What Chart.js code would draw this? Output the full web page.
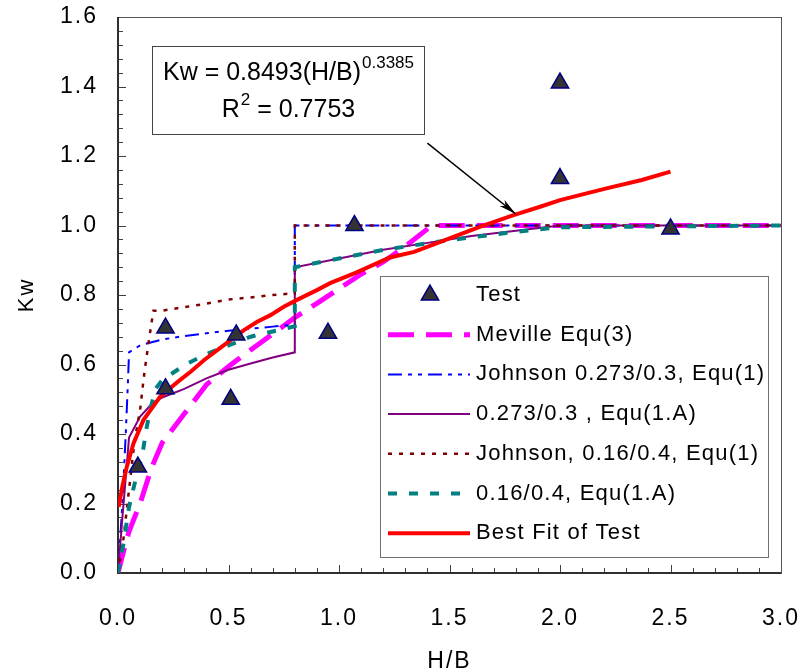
<!DOCTYPE html>
<html>
<head>
<meta charset="utf-8">
<script src="https://cdn.jsdelivr.net/npm/chart.js@4.4.0/dist/chart.umd.min.js"></script>
<style>
  html, body { margin: 0; padding: 0; background: #fff; }
</style>
</head>
<body>
<canvas id="chart" width="804" height="670"></canvas>
<script>

//Test results
const testX = [0.09, 0.215, 0.215, 0.51, 0.535, 0.95, 1.07, 2.0, 2.0, 2.5];
const testY = [0.305, 0.705, 0.53, 0.50, 0.685, 0.69, 1.0, 1.41, 1.135, 0.99];

//Meville Equ(3)
const mevilleX = [0, 0.02, 0.05, 0.1, 0.15, 0.2, 0.3, 0.4, 0.5, 0.6, 0.7, 0.8, 0.9, 1.0, 1.1, 1.2, 1.3, 1.42, 3.0];
const mevilleY = [0, 0.05, 0.12, 0.2, 0.3, 0.375, 0.458, 0.542, 0.594, 0.642, 0.688, 0.735, 0.776, 0.818, 0.86, 0.895, 0.94, 1.0, 1.0];

//Johnson 0.273/0.3, Equ(1)
const john273X = [0, 0.02, 0.035, 0.045, 0.05, 0.1, 0.2, 0.3, 0.4, 0.5, 0.6, 0.7, 0.8, 0.8, 3.0];
const john273Y = [0, 0.2, 0.4, 0.55, 0.635, 0.655, 0.672, 0.682, 0.69, 0.697, 0.703, 0.709, 0.715, 1.0, 1.0];

//0.273/0.3, Equ(1.A)
const eqA273X = [0, 0.02, 0.05, 0.1, 0.15, 0.2, 0.3, 0.4, 0.5, 0.6, 0.7, 0.8, 0.8, 1.0, 1.2, 1.4, 1.6, 1.8, 2.0, 3.0];
const eqA273Y = [0, 0.16, 0.39, 0.45, 0.485, 0.505, 0.53, 0.56, 0.585, 0.603, 0.62, 0.635, 0.88, 0.905, 0.93, 0.95, 0.97, 0.985, 1.0, 1.0];

//Johnson, 0.16/0.4, Equ(1)
const john16X = [0, 0.025, 0.05, 0.075, 0.1, 0.12, 0.14, 0.16, 0.2, 0.3, 0.4, 0.5, 0.6, 0.7, 0.8, 0.8, 3.0];
const john16Y = [0, 0.1, 0.24, 0.38, 0.47, 0.58, 0.67, 0.755, 0.755, 0.765, 0.775, 0.787, 0.793, 0.80, 0.805, 1.0, 1.0];

//0.16/0.4, Equ(1.A)
const eqA16X = [0, 0.025, 0.05, 0.08, 0.11, 0.13, 0.15, 0.17, 0.2, 0.3, 0.4, 0.5, 0.6, 0.7, 0.8, 0.8, 1.0, 1.2, 1.5, 1.8, 2.0, 3.0];
const eqA16Y = [0, 0.085, 0.19, 0.27, 0.34, 0.42, 0.48, 0.53, 0.555, 0.598, 0.63, 0.655, 0.68, 0.695, 0.71, 0.88, 0.905, 0.93, 0.958, 0.982, 0.995, 1.0];

//Best fit of test
const fitX = [0.003, 0.02, 0.04, 0.07, 0.115, 0.19, 0.27, 0.33, 0.39, 0.49, 0.57, 0.63, 0.69, 0.75, 0.81, 0.9, 0.96, 1.08, 1.23, 1.34, 1.5, 1.64, 1.79, 1.91, 2.0, 2.21, 2.37, 2.5];
const fitY = [0.19, 0.25, 0.306, 0.373, 0.44, 0.507, 0.55, 0.58, 0.613, 0.661, 0.699, 0.723, 0.742, 0.766, 0.786, 0.814, 0.834, 0.865, 0.908, 0.924, 0.963, 0.997, 1.03, 1.054, 1.073, 1.107, 1.131, 1.155];

//Axis tick values
const xTicks = [0, 0.5, 1.0, 1.5, 2.0, 2.5, 3.0];
const yTicks = [0, 0.2, 0.4, 0.6, 0.8, 1.0, 1.2, 1.4, 1.6];

//Arrow of the fit equation (data coords)
const arrowFrom = [1.40, 1.237];
const arrowTo = [1.80, 1.033];

const FONT = '"Liberation Sans", Arial, sans-serif';

const pts = (xs, ys) => xs.map((x, i) => ({ x: x, y: ys[i] }));

const lineSet = (label, xs, ys, color, width, dash, order) => ({
    label: label,
    data: pts(xs, ys),
    showLine: true,
    borderColor: color,
    backgroundColor: color,
    borderWidth: width,
    borderDash: dash,
    pointRadius: 0,
    tension: 0,
    order: order,
});

//frame and inward tick marks
const frameTicks = {
    id: "frameTicks",
    beforeDatasetsDraw(chart) {
        const { ctx, chartArea: a, scales: { x, y } } = chart;
        ctx.save();
        ctx.strokeStyle = "#404040";
        ctx.lineWidth = 1;
        for (let i = 0; i <= 30; i++) {
            const px = Math.round(x.getPixelForValue(i / 10)) + 0.5;
            const len = i % 5 === 0 ? 8 : 5;
            ctx.beginPath();
            ctx.moveTo(px, a.bottom);
            ctx.lineTo(px, a.bottom - len);
            ctx.stroke();
        }
        for (let i = 0; i <= 40; i++) {
            const py = Math.round(y.getPixelForValue(i * 0.04)) + 0.5;
            const len = i % 5 === 0 ? 8 : 5;
            ctx.beginPath();
            ctx.moveTo(a.left, py);
            ctx.lineTo(a.left + len, py);
            ctx.stroke();
        }
        ctx.strokeStyle = "#555";
        ctx.strokeRect(a.left + 0.5, a.top + 0.5, a.right - a.left, a.bottom - a.top);
        ctx.strokeStyle = "#303030";
        ctx.lineWidth = 2;
        ctx.beginPath();
        ctx.moveTo(a.left, a.top);
        ctx.lineTo(a.left, a.bottom);
        ctx.lineTo(a.right, a.bottom);
        ctx.stroke();
        ctx.restore();
    },
};

//legend box inside the plot
const boxLegend = {
    id: "boxLegend",
    afterDraw(chart) {
        const ctx = chart.ctx;
        const left = 380, top = 276, right = 768, bottom = 557;
        ctx.save();
        ctx.letterSpacing = "0px";
        ctx.fillStyle = "#fff";
        ctx.fillRect(left, top, right - left, bottom - top);
        ctx.strokeStyle = "#707070";
        ctx.lineWidth = 1;
        ctx.strokeRect(left + 0.5, top + 0.5, right - left, bottom - top);

        chart.data.datasets.forEach((ds, i) => {
            const cy = 295 + i * 39.7;
            if (!ds.showLine) {
                ctx.fillStyle = ds.backgroundColor;
                ctx.strokeStyle = ds.borderColor;
                ctx.lineWidth = ds.borderWidth;
                Chart.helpers.drawPoint(ctx, { pointStyle: "triangle", radius: 10, rotation: 0, borderWidth: ds.borderWidth }, 430, cy);
            } else {
                ctx.strokeStyle = ds.borderColor;
                ctx.lineWidth = ds.borderWidth;
                ctx.setLineDash(ds.borderDash || []);
                ctx.beginPath();
                ctx.moveTo(388, cy);
                ctx.lineTo(470, cy);
                ctx.stroke();
                ctx.setLineDash([]);
            }
            ctx.fillStyle = "#000";
            ctx.font = "22px " + FONT;
            ctx.letterSpacing = "1.2px";
            ctx.textBaseline = "middle";
            ctx.textAlign = "left";
            ctx.fillText(ds.label, 476, cy);
            ctx.letterSpacing = "0px";
        });
        ctx.restore();
    },
};

//equation box with arrow
const fitNote = {
    id: "fitNote",
    afterDraw(chart) {
        const { ctx, scales: { x, y } } = chart;
        ctx.save();
        ctx.letterSpacing = "0px";
        ctx.fillStyle = "#fff";
        ctx.fillRect(152, 46, 272, 88);
        ctx.strokeStyle = "#444";
        ctx.lineWidth = 1;
        ctx.strokeRect(152.5, 46.5, 272, 88);

        ctx.fillStyle = "#000";
        ctx.textAlign = "left";
        ctx.textBaseline = "alphabetic";
        const big = "25px " + FONT, small = "17px " + FONT;

        ctx.font = big;
        const main = "Kw = 0.8493(H/B)";
        const wMain = ctx.measureText(main).width;
        ctx.font = small;
        const wSup = ctx.measureText("0.3385").width;
        let sx = 288 - (wMain + wSup) / 2;
        ctx.font = big;
        ctx.fillText(main, sx, 80);
        ctx.font = small;
        ctx.fillText("0.3385", sx + wMain + 1, 68);

        ctx.font = big;
        const wR = ctx.measureText("R").width;
        const rest = " = 0.7753";
        const wRest = ctx.measureText(rest).width;
        ctx.font = small;
        const w2 = ctx.measureText("2").width;
        sx = 288 - (wR + w2 + wRest) / 2;
        ctx.font = big;
        ctx.fillText("R", sx, 117);
        ctx.font = small;
        ctx.fillText("2", sx + wR + 1, 105);
        ctx.font = big;
        ctx.fillText(rest, sx + wR + w2 + 1, 117);

        //arrow
        const x0 = x.getPixelForValue(arrowFrom[0]), y0 = y.getPixelForValue(arrowFrom[1]);
        const x1 = x.getPixelForValue(arrowTo[0]), y1 = y.getPixelForValue(arrowTo[1]);
        const ang = Math.atan2(y1 - y0, x1 - x0);
        ctx.strokeStyle = "#000";
        ctx.lineWidth = 1.5;
        ctx.beginPath();
        ctx.moveTo(x0, y0);
        ctx.lineTo(x1, y1);
        ctx.stroke();
        ctx.beginPath();
        ctx.moveTo(x1, y1);
        ctx.lineTo(x1 - 18 * Math.cos(ang - 0.22), y1 - 18 * Math.sin(ang - 0.22));
        ctx.lineTo(x1 - 13 * Math.cos(ang), y1 - 13 * Math.sin(ang));
        ctx.lineTo(x1 - 18 * Math.cos(ang + 0.22), y1 - 18 * Math.sin(ang + 0.22));
        ctx.closePath();
        ctx.fillStyle = "#000";
        ctx.fill();
        ctx.restore();
    },
};

//wider tick text like the original
const tickSpacing = {
    id: "tickSpacing",
    beforeDraw(chart) {
        chart.ctx.letterSpacing = "2px";
    },
};

const ctx = document.getElementById("chart").getContext("2d");

new Chart(ctx, {
    type: "scatter",
    data: {
        datasets: [
            {
                label: "Test",
                data: pts(testX, testY),
                showLine: false,
                pointStyle: "triangle",
                pointRadius: 10,
                pointHoverRadius: 10,
                backgroundColor: "#333333",
                borderColor: "#000080",
                borderWidth: 1.5,
                order: 0,
            },
            lineSet("Meville Equ(3)", mevilleX, mevilleY, "#ff00ff", 5, [26, 12], 6),
            lineSet("Johnson 0.273/0.3, Equ(1)", john273X, john273Y, "#0000ff", 2, [14, 6, 4, 6, 4, 6], 5),
            lineSet("0.273/0.3 , Equ(1.A)", eqA273X, eqA273Y, "#800080", 2, [], 4),
            lineSet("Johnson, 0.16/0.4, Equ(1)", john16X, john16Y, "#800000", 2.5, [4, 7], 3),
            lineSet("0.16/0.4, Equ(1.A)", eqA16X, eqA16Y, "#008080", 4, [9, 12], 2),
            lineSet("Best Fit of Test", fitX, fitY, "#ff0000", 4, [], 1),
        ],
    },
    options: {
        responsive: false,
        animation: false,
        events: [],
        layout: { padding: { top: 17, right: 23, left: 0, bottom: 0 } },
        plugins: {
            legend: { display: false },
            tooltip: { enabled: false },
        },
        scales: {
            x: {
                type: "linear",
                min: 0,
                max: 3,
                afterFit(s) {
                    s.height = 97;
                    s.paddingLeft = 0;
                    s.paddingRight = 0;
                },
                afterBuildTicks(s) { s.ticks = xTicks.map((v) => ({ value: v })); },
                grid: { display: false, drawTicks: false },
                border: { display: false },
                ticks: {
                    padding: 32,
                    color: "#000",
                    font: { family: FONT, size: 23 },
                    callback: (v) => v.toFixed(1),
                },
                title: {
                    display: true,
                    text: "H/B",
                    color: "#000",
                    font: { family: FONT, size: 23, lineHeight: 0.75 },
                    padding: { top: 0, bottom: 0 },
                },
            },
            y: {
                type: "linear",
                min: 0,
                max: 1.6,
                afterFit(s) {
                    s.width = 118;
                    s.paddingTop = 0;
                    s.paddingBottom = 0;
                },
                afterBuildTicks(s) { s.ticks = yTicks.map((v) => ({ value: v })); },
                grid: { display: false, drawTicks: false },
                border: { display: false },
                ticks: {
                    padding: 20,
                    color: "#000",
                    font: { family: FONT, size: 23 },
                    callback: (v) => v.toFixed(1),
                },
                title: {
                    display: true,
                    text: "Kw",
                    color: "#000",
                    font: { family: FONT, size: 22 },
                    padding: { top: 14, bottom: 0 },
                },
            },
        },
    },
    plugins: [tickSpacing, frameTicks, boxLegend, fitNote],
});
</script>
</body>
</html>
